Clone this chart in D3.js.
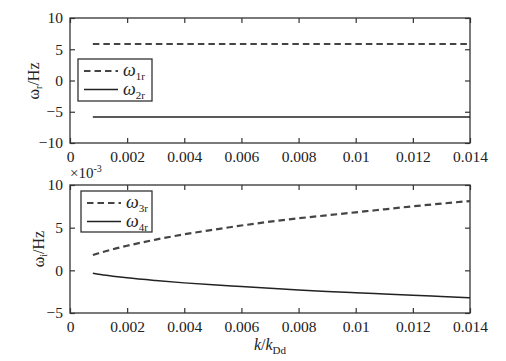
<!DOCTYPE html>
<html><head><meta charset="utf-8">
<script src="https://cdn.jsdelivr.net/npm/d3@7"></script>
<style>
body{margin:0;background:#fff;}
svg{display:block;font-family:"Liberation Serif","Times New Roman",serif;}
</style></head>
<body><svg id="c" width="506" height="361"></svg>
<script>
// ---- data ----
const kTop = [0.0008, 0.014];
const omega1r = [5.84, 5.84];
const omega2r = [-5.84, -5.84];

const kBot = [0.0008,0.001,0.0015,0.002,0.003,0.004,0.005,0.006,0.007,0.008,0.009,0.01,0.011,0.012,0.013,0.014];
const omega3r = [1.79,2.0,2.47,2.88,3.6,4.22,4.75,5.25,5.7,6.1,6.45,6.8,7.15,7.5,7.82,8.12];
const omega4r = [-0.35,-0.46,-0.68,-0.88,-1.2,-1.47,-1.7,-1.9,-2.1,-2.3,-2.47,-2.63,-2.78,-2.93,-3.07,-3.21];

const xTicks = [0,0.002,0.004,0.006,0.008,0.01,0.012,0.014];
const xTickLabels = ["0","0.002","0.004","0.006","0.008","0.01","0.012","0.014"];
const yTicksTop = [-10,-5,0,5,10];
const yTicksBot = [-5,0,5,10];

const svg = d3.select("#c");
const L = 70, R = 470;
const x = d3.scaleLinear().domain([0,0.014]).range([L,R]);
const yT = d3.scaleLinear().domain([-10,10]).range([143,18]);
const yB = d3.scaleLinear().domain([-5,10]).range([313,185]);

const axisColor = "#333";
function panel(y, yTicks, top, bottom) {
  const g = svg.append("g");
  g.append("rect").attr("x",L).attr("y",top).attr("width",R-L).attr("height",bottom-top)
    .attr("fill","none").attr("stroke",axisColor).attr("stroke-width",1.3);
  const ax = d3.axisBottom(x).tickValues(xTicks).tickFormat((d,i)=>xTickLabels[i]).tickSizeInner(-5).tickSizeOuter(0).tickPadding(8);
  const gb = g.append("g").attr("transform",`translate(0,${bottom})`).call(ax);
  const at = d3.axisTop(x).tickValues(xTicks).tickFormat("").tickSizeInner(-5).tickSizeOuter(0);
  const gt = g.append("g").attr("transform",`translate(0,${top})`).call(at);
  const ay = d3.axisLeft(y).tickValues(yTicks).tickFormat(d3.format("d")).tickSizeInner(-5).tickSizeOuter(0).tickPadding(7);
  const gl = g.append("g").attr("transform",`translate(${L},0)`).call(ay);
  const ar = d3.axisRight(y).tickValues(yTicks).tickFormat("").tickSizeInner(-5).tickSizeOuter(0);
  const gr = g.append("g").attr("transform",`translate(${R},0)`).call(ar);
  [gb,gt,gl,gr].forEach(a=>{
    a.select(".domain").remove();
    a.selectAll("line").attr("stroke",axisColor).attr("stroke-width",1.2);
    a.selectAll("text").attr("font-size",15.5).attr("fill","#222").attr("font-family","Liberation Serif, serif");
  });
  gb.selectAll("text").attr("dy","0.71em");
  return g;
}
panel(yT, yTicksTop, 18, 143);
panel(yB, yTicksBot, 185, 313);

function drawLine(ks, vs, y, dashed){
  const line = d3.line().curve(d3.curveMonotoneX).x((d,i)=>x(ks[i])).y(d=>y(d));
  svg.append("path").datum(vs).attr("d",line).attr("fill","none")
    .attr("stroke", dashed ? "#444" : "#222")
    .attr("stroke-width", dashed ? 2.2 : 1.5)
    .attr("stroke-dasharray", dashed ? "6.5,4" : null);
}
drawLine(kTop, omega1r, yT, true);
drawLine(kTop, omega2r, yT, false);
drawLine(kBot, omega3r, yB, true);
drawLine(kBot, omega4r, yB, false);

function legend(x0,y0,w,h,items){
  svg.append("rect").attr("x",x0).attr("y",y0).attr("width",w).attr("height",h)
    .attr("fill","#fff").attr("stroke",axisColor).attr("stroke-width",1.3);
  items.forEach((it,i)=>{
    const yy = y0 + 12 + i*18.5;
    svg.append("line").attr("x1",x0+6).attr("x2",x0+40).attr("y1",yy).attr("y2",yy)
      .attr("stroke", it.dashed ? "#444":"#222").attr("stroke-width", it.dashed?2.2:1.5)
      .attr("stroke-dasharray", it.dashed ? "6.5,4" : null);
    const t = svg.append("text").attr("x",x0+45).attr("y",yy+5).attr("fill","#222");
    t.append("tspan").text("ω").attr("font-style","italic").attr("font-size",18);
    t.append("tspan").text(it.sub).attr("font-size",11).attr("dy",4);
  });
}
legend(78,59,74,42,[{dashed:true,sub:"1r"},{dashed:false,sub:"2r"}]);
legend(81,191,71,41,[{dashed:true,sub:"3r"},{dashed:false,sub:"4r"}]);

function ylabel(cx, cy, sub){
  const t = svg.append("text").attr("transform",`translate(${cx},${cy}) rotate(-90)`)
    .attr("text-anchor","middle").attr("fill","#222").attr("font-size",16);
  t.append("tspan").text("ω");
  t.append("tspan").text(sub).attr("font-size",10).attr("dy",3);
  t.append("tspan").text("/Hz").attr("dy",-3);
}
ylabel(39, 81, "r");
ylabel(44, 249, "i");

const e = svg.append("text").attr("x",70).attr("y",178).attr("fill","#222").attr("font-size",15);
e.append("tspan").text("×10");
e.append("tspan").text("-3").attr("font-size",10).attr("dy",-6);

const xl = svg.append("text").attr("x",270).attr("y",350).attr("text-anchor","middle").attr("fill","#222").attr("font-size",16);
xl.append("tspan").text("k").attr("font-style","italic");
xl.append("tspan").text("/");
xl.append("tspan").text("k").attr("font-style","italic");
xl.append("tspan").text("Dd").attr("font-size",11).attr("dy",4);
</script></body></html>
